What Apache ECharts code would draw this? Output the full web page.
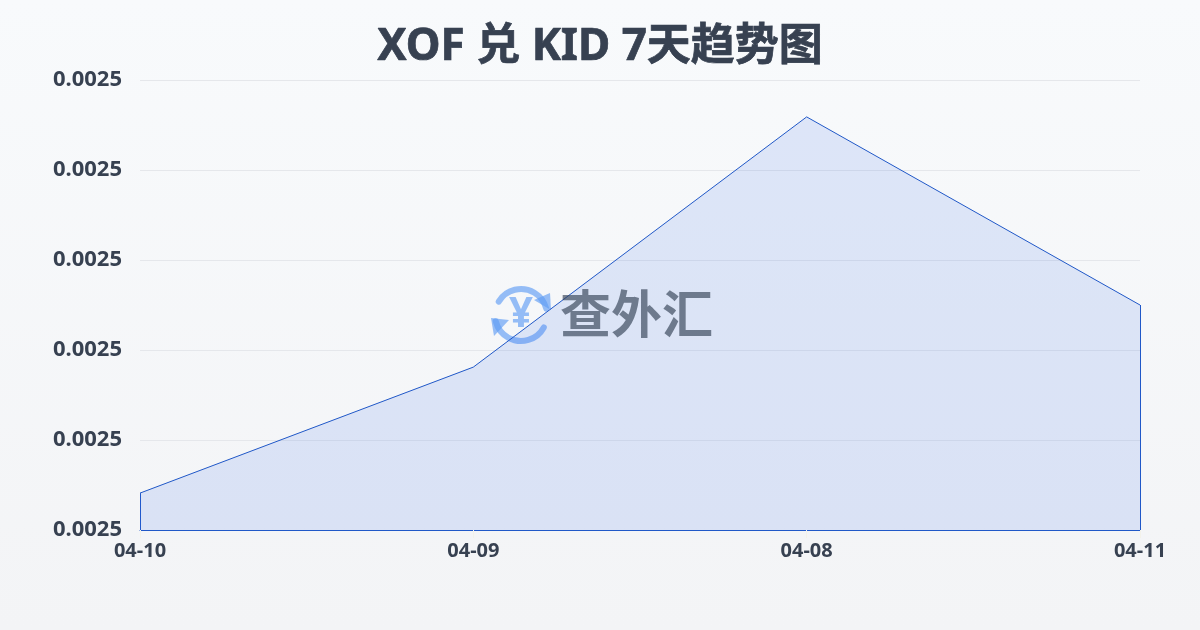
<!DOCTYPE html>
<html><head><meta charset="utf-8">
<style>html,body{margin:0;padding:0;background:#f5f7fa}#c{width:1200px;height:630px}</style>
<script src="https://cdn.jsdelivr.net/npm/echarts@6/dist/echarts.min.js"></script>
</head><body><div id="c"></div>
<script>
const titleText = 'XOF 兑 KID 7天趋势图';
const categories = ['04-10','04-09','04-08','04-11'];
const rates = [0.00250041,0.00250181,0.00250459,0.0025025];
const axisMin = 0.0025, axisMax = 0.002505, axisStep = 0.000001;
const FONT = '"Noto Sans","Noto Sans CJK SC",sans-serif';
const BLUE = '#2058c8', ICON='#5f9df5', INK='#374151', MARK='#334155';
const chart = echarts.init(document.getElementById('c'), null, {renderer:'canvas'});
const side = i => [{xAxis:categories[i],yAxis:axisMin},{xAxis:categories[i],yAxis:rates[i]}];
chart.setOption({
  animation:false,
  backgroundColor:new echarts.graphic.LinearGradient(0,0,0,1,[{offset:0,color:'#f8fafc'},{offset:1,color:'#f3f4f6'}]),
  title:{text:titleText,left:'center',top:20,textStyle:{fontFamily:FONT,fontSize:44,fontWeight:'bold',color:INK,textBorderColor:INK,textBorderWidth:0.7}},
  grid:{left:140,right:60,top:80,bottom:100},
  xAxis:{type:'category',boundaryGap:false,data:categories,
    axisLine:{show:true,lineStyle:{color:BLUE,width:1}},
    axisTick:{show:true,length:8,lineStyle:{color:'#f3f2ea'}},
    axisLabel:{fontFamily:FONT,fontSize:20,fontWeight:'bold',color:INK,margin:11},splitLine:{show:false}},
  yAxis:{type:'value',min:axisMin,max:axisMax,interval:axisStep,
    axisLine:{show:false},axisTick:{show:false},
    axisLabel:{fontFamily:FONT,fontSize:22,fontWeight:'bold',color:INK,margin:18,padding:[0,0,4,0],formatter:v=>v.toFixed(4)},
    splitLine:{show:true,lineStyle:{color:'#e5e7eb',width:1}}},
  graphic:[
    {type:'group',left:491,top:286,z:100,silent:true,children:[
      {type:'arc',shape:{cx:30,cy:29,r:26,startAngle:-2.6,endAngle:-0.25},style:{stroke:ICON,lineWidth:6,fill:null,lineCap:'round',opacity:0.65}},
      {type:'arc',shape:{cx:30,cy:29,r:26,startAngle:0.5,endAngle:2.9},style:{stroke:ICON,lineWidth:6,fill:null,lineCap:'round',opacity:0.65}},
      {type:'polygon',shape:{points:[[43,14],[59,7],[60,24]]},style:{fill:ICON,opacity:0.65}},
      {type:'polygon',shape:{points:[[0,32],[18,34],[3,50]]},style:{fill:ICON,opacity:0.65}},
      {type:'text',style:{x:30,y:29,text:'¥',align:'center',verticalAlign:'middle',font:'bold 42px "Noto Sans"',fill:ICON,opacity:0.65}}
    ]},
    {type:'text',left:560,top:288,z:100,silent:true,style:{text:'查外汇',font:'bold 51px "Noto Sans CJK SC"',fill:MARK,opacity:0.65}}
  ],
  series:[{type:'line',data:rates,showSymbol:false,symbol:'none',z:20,
    lineStyle:{color:BLUE,width:1},
    areaStyle:{color:'rgba(37,99,235,0.18)'},
    markLine:{silent:true,symbol:'none',label:{show:false},lineStyle:{color:BLUE,width:1,type:'solid'},animation:false,
      data:[side(0),side(categories.length-1)]}
  }]
});
</script></body></html>
